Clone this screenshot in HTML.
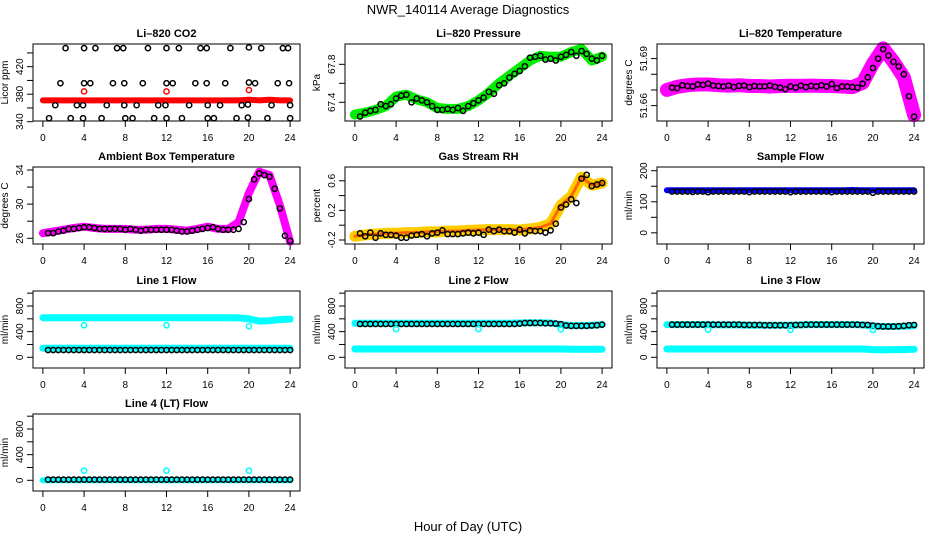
<!DOCTYPE html>
<html><head><meta charset="utf-8"><style>
html,body{margin:0;padding:0;background:#fff;}
svg{display:block;font-family:"Liberation Sans",sans-serif;}
</style></head><body>
<svg id="c" width="936" height="540" viewBox="0 0 936 540">
<text x="468" y="14" text-anchor="middle" font-size="13">NWR_140114  Average Diagnostics</text>
<text x="468" y="531" text-anchor="middle" font-size="13">Hour of Day (UTC)</text>
</svg>
<script>
// ---- data ----
const xTicks = [0,4,8,12,16,20,24];
const bandHours = [0,1,2,3,4,5,6,7,8,9,10,11,12,13,14,15,16,17,18,19,20,21,22,23,24];
const ptHours = [0.5,1,1.5,2,2.5,3,3.5,4,4.5,5,5.5,6,6.5,7,7.5,8,8.5,9,9.5,10,10.5,11,11.5,12,12.5,13,13.5,14,14.5,15,15.5,16,16.5,17,17.5,18,18.5,19,19.5,20,20.5,21,21.5,22,22.5,23,23.5,24];

// CO2
const co2PtHours = [2.2,4.0,5.1,7.2,7.8,10.2,12.0,13.2,15.3,15.9,18.2,20.0,21.2,23.3,23.8,
 1.7,4.0,4.6,6.8,7.9,9.7,12.0,12.6,14.8,15.9,17.7,20.0,20.6,22.8,23.9,
 1.2,3.3,3.9,6.2,7.9,9.1,11.2,11.9,14.2,16.0,17.2,19.3,19.9,22.2,24.0,
 0.6,2.7,3.9,5.7,8.0,8.7,10.8,12.0,13.5,16.0,16.6,18.8,19.9,21.8,24.0];
const co2PtVals = [447,447,447,447,447,447,447,447,447,447,447,448,447,447,447,
 396,396,396,396,396,396,396,396,396,396,396,397,396,396,396,
 364,364,364,364,364,364,364,364,364,364,364,364,365,364,364,
 345,345,345,345,345,345,345,345,345,345,345,345,346,345,345];
const co2Band = [371,371,371,371,371,371,371,371,371,371,371,371,371,371,371,371,371,371,371,371,372,371,372,371,371];
const co2RedHours = [4,12,20];
const co2RedVals = [384,384,386];

// Pressure
const presBand = [67.27,67.29,67.32,67.36,67.46,67.48,67.43,67.40,67.34,67.33,67.33,67.36,67.42,67.50,67.60,67.68,67.76,67.84,67.89,67.88,67.88,67.93,67.96,67.84,67.88];
const presPts = [67.25,67.29,67.31,67.32,67.38,67.36,67.38,67.44,67.47,67.48,67.40,67.44,67.42,67.40,67.36,67.32,67.32,67.33,67.32,67.34,67.31,67.36,67.39,67.42,67.45,67.51,67.49,67.58,67.60,67.66,67.70,67.73,67.78,67.87,67.88,67.89,67.85,67.86,67.84,67.88,67.90,67.93,67.89,67.94,67.91,67.86,67.84,67.89];

// Li-820 temperature
const ltBand = [51.6700,51.6720,51.6730,51.6735,51.6735,51.6730,51.6728,51.6730,51.6725,51.6725,51.6722,51.6725,51.6727,51.6726,51.6728,51.6726,51.6725,51.6722,51.6718,51.6745,51.6867,51.6965,51.6880,51.6780,51.6540];
const ltPts = [51.6715,51.6712,51.6730,51.6725,51.6722,51.6735,51.6732,51.6740,51.6728,51.6725,51.6722,51.6728,51.6718,51.6726,51.6728,51.6718,51.6725,51.6722,51.6723,51.6728,51.6720,51.6715,51.6705,51.6722,51.6715,51.6728,51.6718,51.6726,51.6722,51.6730,51.6722,51.6738,51.6712,51.6722,51.6722,51.6718,51.6715,51.6740,51.6780,51.6840,51.6900,51.6960,51.6920,51.6880,51.6850,51.6800,51.6660,51.6530];

// Ambient box temperature
const ambBand = [26.6,26.8,27.0,27.2,27.36,27.2,27.1,27.1,27.09,27.0,27.0,27.1,27.1,27.0,26.9,27.1,27.36,27.1,27.1,27.9,31.3,33.8,33.4,29.9,25.6];
const ambPts = [26.6,26.6,26.8,26.9,27.1,27.1,27.2,27.3,27.3,27.2,27.1,27.1,27.1,27.1,27.1,27.0,27.1,27.0,26.9,27.0,27.0,27.0,27.0,27.0,27.0,26.9,26.8,26.8,26.9,27.0,27.1,27.2,27.3,27.1,27.0,27.0,27.0,27.1,27.9,30.6,32.9,33.6,33.4,33.2,31.8,29.5,26.3,25.7];

// Gas stream RH
const rhBand = [-0.15,-0.13,-0.12,-0.11,-0.11,-0.10,-0.10,-0.09,-0.09,-0.08,-0.08,-0.07,-0.065,-0.06,-0.06,-0.06,-0.065,-0.05,-0.03,0.02,0.27,0.39,0.65,0.54,0.57];
const rhPts = [-0.11,-0.15,-0.10,-0.17,-0.11,-0.13,-0.13,-0.14,-0.17,-0.17,-0.14,-0.13,-0.12,-0.15,-0.11,-0.10,-0.07,-0.12,-0.12,-0.12,-0.11,-0.10,-0.11,-0.10,-0.13,-0.06,-0.08,-0.06,-0.08,-0.08,-0.10,-0.06,-0.11,-0.07,-0.08,-0.08,-0.10,-0.07,0.02,0.24,0.28,0.35,0.30,0.63,0.68,0.53,0.55,0.57];

// Sample flow
const sfBand = [137,137,137,137,137,137,137,137,137,137,137,137,137,137,137,137,137,137,138,137,137,137,137,137,137];
const sfPts = [133,133,133,133,132,133,133,131,133,133,133,133,133,133,133,131,133,133,133,133,133,133,133,131,133,133,133,133,133,133,133,131,133,133,133,133,133,133,133,129,133,133,133,133,133,133,133,133];

// Line flows
const l1High = [617,617,617,617,617,617,617,617,617,617,617,617,617,617,617,617,617,617,617,615,600,565,570,590,595];
const l1Low = [140,140,140,140,140,140,140,140,140,140,140,140,140,140,140,140,140,140,140,140,140,140,140,140,140];
const l1Pts = [113,113,113,113,113,113,113,113,113,113,113,113,113,113,113,113,113,113,113,113,113,113,113,113,113,113,113,113,113,113,113,113,113,113,113,113,113,113,113,113,113,113,113,113,113,113,113,113];
const l1CyanHours = [4,12,20];
const l1CyanVals = [500,500,485];

const l2High = [530,530,530,530,530,530,530,530,530,530,530,530,530,530,530,530,535,540,540,535,510,495,495,500,510];
const l2Low = [130,130,130,130,130,130,130,130,130,130,130,130,130,130,130,130,130,130,130,130,130,125,125,125,125];
const l2Pts = [520,520,520,520,520,520,520,520,520,520,520,520,520,520,520,520,520,520,520,520,520,520,520,520,520,520,520,520,520,520,520,525,535,535,535,535,530,530,525,515,495,490,490,490,490,495,500,510];
const l2CyanHours = [4,12,20];
const l2CyanVals = [440,440,435];

const l3High = [510,510,510,510,510,505,505,505,500,500,500,500,500,505,510,510,510,510,510,505,490,480,480,485,495];
const l3Low = [130,130,130,130,130,130,130,130,130,130,130,130,130,130,130,130,130,130,130,130,120,115,120,120,125];
const l3Pts = [510,510,510,510,510,510,510,510,510,510,510,510,510,510,505,505,505,505,500,500,500,500,500,500,505,505,510,510,510,510,510,510,510,510,510,510,510,505,505,495,485,480,480,480,485,490,500,505];
const l3CyanHours = [4,12,20];
const l3CyanVals = [430,430,425];

const l4High = [0,0,0,0,0,0,0,0,0,0,0,0,0,0,0,0,0,0,0,0,0,0,0,0,0];
const l4Pts = [10,10,10,10,10,10,10,10,10,10,10,10,10,10,10,10,10,10,10,10,10,10,10,10,10,10,10,10,10,10,10,10,10,10,10,10,10,10,10,10,10,10,10,10,10,10,10,10];
const l4CyanHours = [4,12,20];
const l4CyanVals = [150,150,150];

// ---- drawing ----
const svg = document.getElementById('c');
const NS = 'http://www.w3.org/2000/svg';
function mk(tag, attrs, parent){
  const e = document.createElementNS(NS, tag);
  for (const k in attrs) e.setAttribute(k, attrs[k]);
  (parent||svg).appendChild(e);
  return e;
}
const rowTops = [44,167,291,414];
function makePanel(col,row,ymin,ymax,title,ylab,yTickVals,yLabelVals,name){
  const L = 33+312*col, R = 300+312*col, T = rowTops[row], B = T+77;
  const g = mk('g',{});
  
  
  const xs = h => L + (h+0.96)/25.92*(R-L);
  const ys = v => B - (v-ymin)/(ymax-ymin)*(B-T);
  const t = mk('text',{x:(L+R)/2, y:T-7, 'text-anchor':'middle','font-size':'11','font-weight':'bold'},g);
  t.textContent = title;
  
  
  const yt = mk('text',{x:L-25, y:(T+B)/2, 'text-anchor':'middle','font-size':'10',transform:`rotate(-90 ${L-25} ${(T+B)/2})`},g);
  yt.textContent = ylab;
  
  
  const ax = mk('g',{stroke:'#000','stroke-width':1},g);
  
  
  xTicks.forEach(h=>{
    const x = xs(h);
    mk('line',{x1:x,x2:x,y1:B,y2:B+6},ax);
    const lab = mk('text',{x:x,y:B+20,'text-anchor':'middle','font-size':'10',stroke:'none'},g);
    lab.textContent = h;
    
    
  });
  yTickVals.forEach(v=>{
    const y = ys(v);
    mk('line',{x1:L-6,x2:L,y1:y,y2:y},ax);
  });
  yLabelVals.forEach(v=>{
    const y = ys(v);
    const lab = mk('text',{x:L-10,y:y,'text-anchor':'middle','font-size':'10',transform:`rotate(-90 ${L-10} ${y})`},g);
    lab.textContent = v;
    
    
  });
  const data = mk('g',{},g);
  
  
  const box = mk('rect',{x:L,y:T,width:R-L,height:B-T,fill:'none',stroke:'#000','stroke-width':1},g);
  
  
  return {xs,ys,g:data};
}
function band(p, hours, vals, color, w, nm){
  const pts = hours.map((h,i)=>p.xs(h).toFixed(1)+','+p.ys(vals[i]).toFixed(1)).join(' ');
  const pl = mk('polyline',{points:pts,fill:'none',stroke:color,'stroke-width':w,'stroke-linejoin':'round','stroke-linecap':'round'},p.g);
  
  
}
function circles(p, hours, vals, color, nm, r){
  hours.forEach((h,i)=>{
    const c = mk('circle',{cx:p.xs(h),cy:p.ys(vals[i]),r:r||2.6,fill:'none',stroke:color,'stroke-width':1.5},p.g);
    
    
  });
}

// CO2
let p = makePanel(0,0,341,453,'Li\u2013820 CO2','Licor ppm',[340,360,380,400,420,440],[340,380,420],'co2');
band(p,bandHours,co2Band,'#ff0000',6,'co2-band');
circles(p,co2PtHours,co2PtVals,'#000','co2-point');
circles(p,co2RedHours,co2RedVals,'#ff0000','co2-red-point');

// Pressure
p = makePanel(1,0,67.203,68.014,'Li\u2013820 Pressure','kPa',[67.4,67.6,67.8],[67.4,67.8],'pressure');
band(p,bandHours,presBand,'#00ee00',10,'pressure-band');
circles(p,ptHours,presPts,'#000','pressure-point');

// Li temp
p = makePanel(2,0,51.6502,51.6993,'Li\u2013820 Temperature','degrees C',[51.66,51.67,51.68,51.69],[51.66,51.69],'li-temp');
band(p,bandHours,ltBand,'#ff00ff',14,'li-temp-band');
circles(p,ptHours,ltPts,'#000','li-temp-point');

// Ambient
p = makePanel(0,1,25.33,34.35,'Ambient Box Temperature','degrees C',[26,28,30,32,34],[26,30,34],'ambient');
band(p,bandHours,ambBand,'#ff00ff',8,'ambient-band');
circles(p,ptHours,ambPts,'#000','ambient-point');

// RH
p = makePanel(1,1,-0.254,0.786,'Gas Stream RH','percent',[-0.2,0,0.2,0.4,0.6],[-0.2,0.2,0.6],'rh');
band(p,bandHours,rhBand,'#ffcc00',11,'rh-band');
band(p,bandHours,rhBand,'#ff6600',3,'rh-band-inner');
circles(p,ptHours,rhPts,'#000','rh-point');

// Sample flow
p = makePanel(2,1,-36,212,'Sample Flow','ml/min',[0,50,100,150,200],[0,100,200],'sample-flow');
band(p,bandHours,sfBand,'#0000ff',6,'sample-flow-band');
circles(p,ptHours,sfPts,'#000','sample-flow-point');

const fT = [0,200,400,600,800,1000], fL = [0,400,800];
// Line 1
p = makePanel(0,2,-167,1034,'Line 1 Flow','ml/min',fT,fL,'line1');
band(p,bandHours,l1High,'#00ffff',7,'line1-high-band');
band(p,bandHours,l1Low,'#00ffff',7,'line1-low-band');
circles(p,ptHours,l1Pts,'#000','line1-point');
circles(p,l1CyanHours,l1CyanVals,'#00ffff','line1-cyan-point');
// Line 2
p = makePanel(1,2,-167,1034,'Line 2 Flow','ml/min',fT,fL,'line2');
band(p,bandHours,l2High,'#00ffff',7,'line2-high-band');
band(p,bandHours,l2Low,'#00ffff',7,'line2-low-band');
circles(p,ptHours,l2Pts,'#000','line2-point');
circles(p,l2CyanHours,l2CyanVals,'#00ffff','line2-cyan-point');
// Line 3
p = makePanel(2,2,-167,1034,'Line 3 Flow','ml/min',fT,fL,'line3');
band(p,bandHours,l3High,'#00ffff',7,'line3-high-band');
band(p,bandHours,l3Low,'#00ffff',7,'line3-low-band');
circles(p,ptHours,l3Pts,'#000','line3-point');
circles(p,l3CyanHours,l3CyanVals,'#00ffff','line3-cyan-point');
// Line 4
p = makePanel(0,3,-167,1034,'Line 4 (LT) Flow','ml/min',fT,fL,'line4');
band(p,bandHours,l4High,'#00ffff',6,'line4-band');
circles(p,ptHours,l4Pts,'#000','line4-point');
circles(p,l4CyanHours,l4CyanVals,'#00ffff','line4-cyan-point');
</script>
</body></html>
